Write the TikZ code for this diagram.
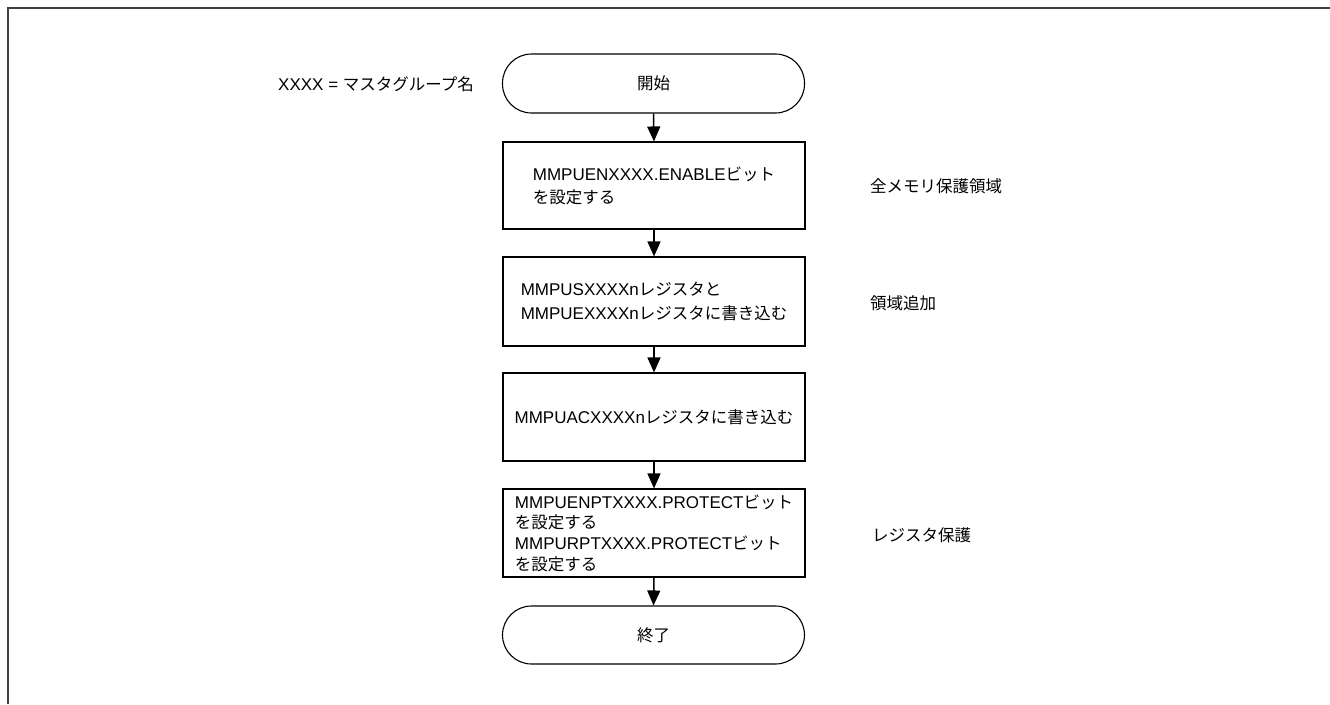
\documentclass[tikz,border=0pt]{standalone}
\usepackage{fontspec}
\setmainfont{Liberation Sans}
\newfontfamily\jp[Scale=0.97]{Noto Sans CJK JP}
\usetikzlibrary{arrows.meta}
\begin{document}
\begin{tikzpicture}[x=1pt,y=-1pt,
  every node/.style={font=\fontsize{17}{23}\selectfont, inner sep=0pt},
  term/.style={draw, line width=1.1pt, rounded corners=29pt, minimum width=302pt, minimum height=59pt},
  procbox/.style={draw, line width=1.1pt, minimum width=302pt, align=left},
  flow/.style={line width=1.5pt, -{Triangle[length=15pt,width=13pt]}},
  note/.style={anchor=west}
]
\useasboundingbox (0,0) rectangle (1330,704);
\draw[line width=2pt, color=black!75] (1330,8) -- (8,8) -- (8,704);

\node[term] (start) at (653.5,83.5) {\jp 開始};
\node[procbox, minimum height=87pt] (b1) at (654,185.5)
  {MMPUENXXXX.ENABLE{\jp ビット}\\{\jp を設定する}};
\node[procbox, minimum height=89pt, font=\fontsize{17}{24}\selectfont] (b2) at (654,301.5)
  {MMPUSXXXXn{\jp レジスタと}\\MMPUEXXXXn{\jp レジスタに書き込む}};
\node[procbox, minimum height=88pt] (b3) at (654,417)
  {MMPUACXXXXn{\jp レジスタに書き込む}};
\node[procbox, minimum height=88pt, font=\fontsize{17}{20.7}\selectfont] (b4) at (654,533)
  {MMPUENPTXXXX.PROTECT{\jp ビット}\\{\jp を設定する}\\MMPURPTXXXX.PROTECT{\jp ビット}\\{\jp を設定する}};
\node[term, minimum height=58pt] (stop) at (653.5,635) {\jp 終了};

\draw[flow] (start.south) -- (b1.north);
\draw[flow] (b1.south) -- (b2.north);
\draw[flow] (b2.south) -- (b3.north);
\draw[flow] (b3.south) -- (b4.north);
\draw[flow] (b4.south) -- (stop.north);

\node[note] (lbl) at (278,84) {XXXX = {\jp マスタグループ名}};
\node[note] (n1) at (870,186) {\jp 全メモリ保護領域};
\node[note] (n2) at (870,303) {\jp 領域追加};
\node[note] (n3) at (872,535) {\jp レジスタ保護};
\end{tikzpicture}
\end{document}
